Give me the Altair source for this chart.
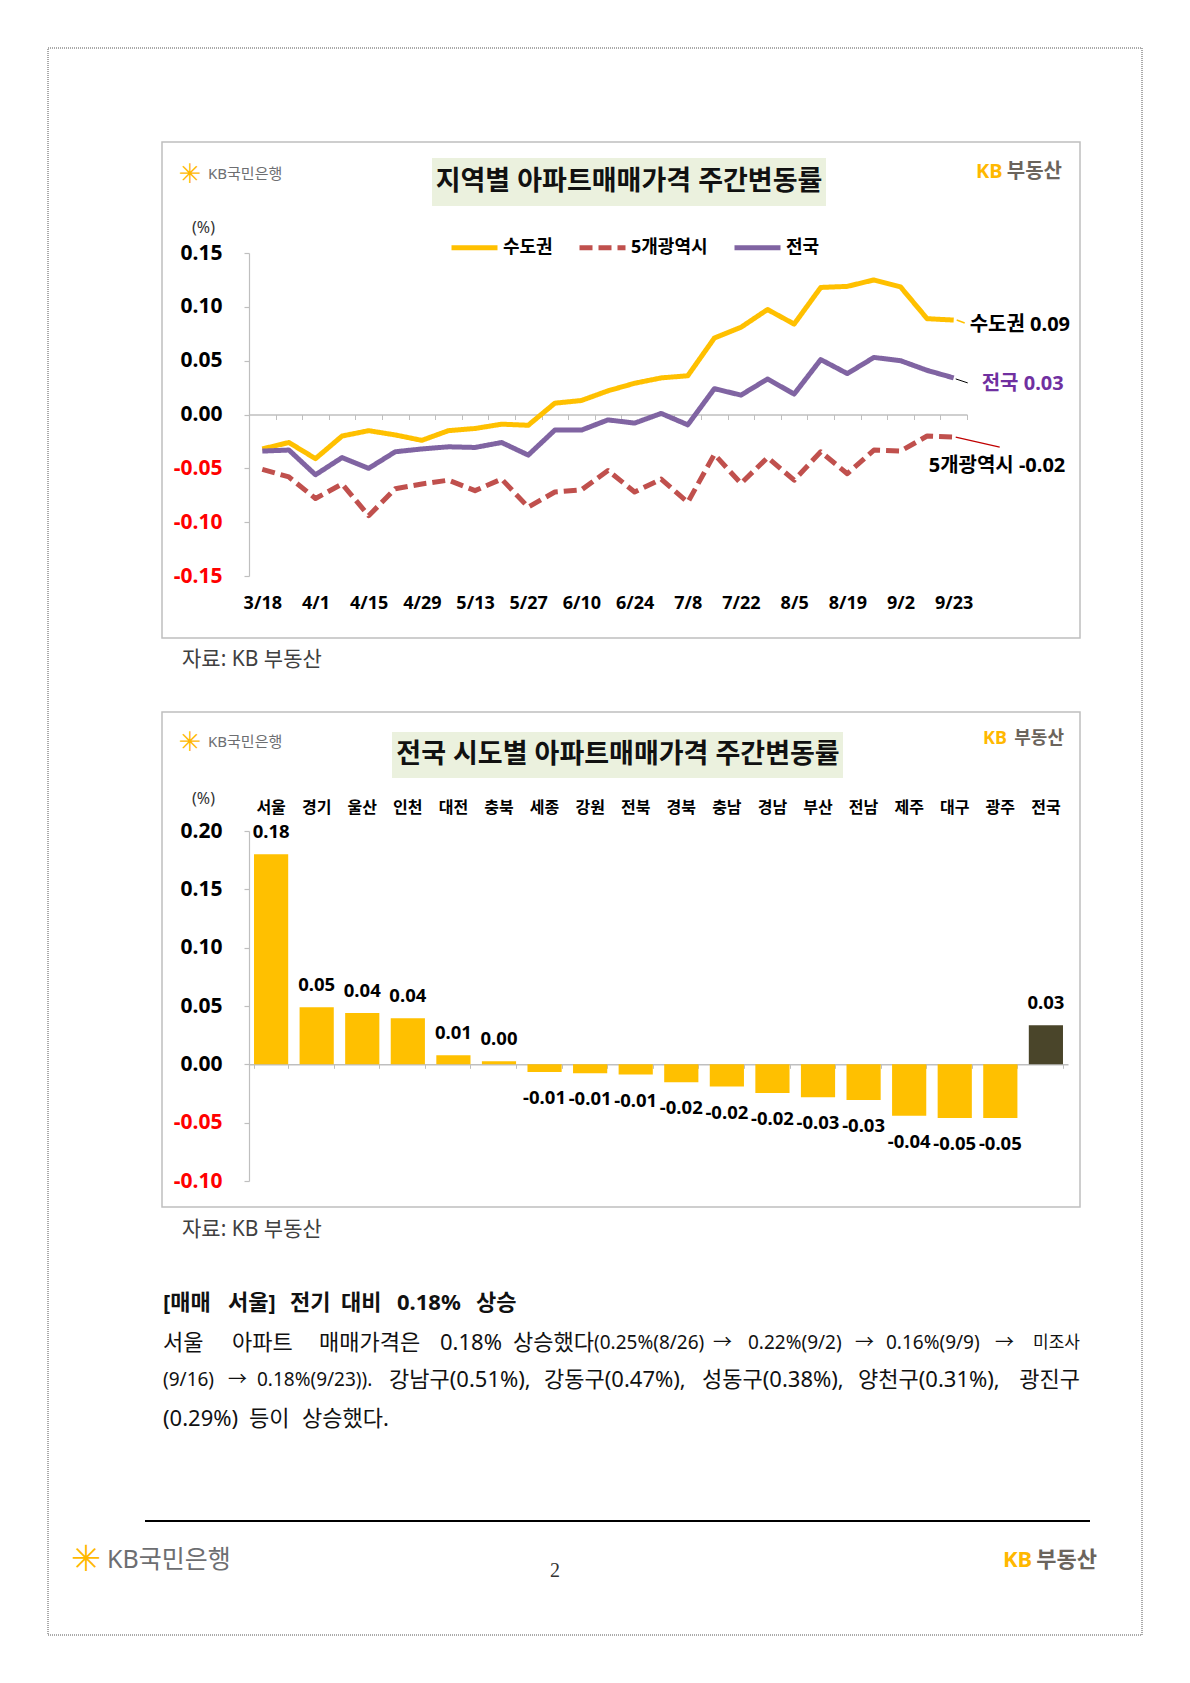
import altair as alt
import pandas as pd

# ---------------- data ----------------
dates = ["3/18", "3/25", "4/1", "4/8", "4/15", "4/22", "4/29", "5/6", "5/13", "5/20",
         "5/27", "6/3", "6/10", "6/17", "6/24", "7/1", "7/8", "7/15", "7/22", "7/29",
         "8/5", "8/12", "8/19", "8/26", "9/2", "9/9", "9/23"]
date_ticks = ["3/18", "4/1", "4/15", "4/29", "5/13", "5/27", "6/10", "6/24", "7/8",
              "7/22", "8/5", "8/19", "9/2", "9/23"]
series_names = ["수도권", "5개광역시", "전국"]
sudogwon = [-0.032, -0.026, -0.041, -0.020, -0.015, -0.019, -0.024, -0.015, -0.013, -0.009,
            -0.010, 0.0105, 0.013, 0.022, 0.029, 0.034, 0.036, 0.071, 0.081, 0.0975,
            0.084, 0.118, 0.119, 0.125, 0.1185, 0.089, 0.0877]
metro5 = [-0.051, -0.058, -0.078, -0.0645, -0.094, -0.069, -0.0645, -0.061, -0.0707, -0.060,
          -0.086, -0.072, -0.070, -0.052, -0.072, -0.060, -0.0815, -0.037, -0.064, -0.040,
          -0.061, -0.0346, -0.055, -0.033, -0.034, -0.020, -0.021]
national = [-0.034, -0.033, -0.056, -0.040, -0.050, -0.0346, -0.032, -0.030, -0.0306, -0.026,
            -0.0377, -0.0145, -0.0145, -0.005, -0.008, 0.001, -0.0096, 0.024, 0.018, 0.033,
            0.019, 0.051, 0.038, 0.053, 0.050, 0.041, 0.034]

regions = ["서울", "경기", "울산", "인천", "대전", "충북", "세종", "강원", "전북", "경북",
           "충남", "경남", "부산", "전남", "제주", "대구", "광주", "전국"]
region_values = [0.180, 0.049, 0.044, 0.0395, 0.0077, 0.0026, -0.0066, -0.0077, -0.0088, -0.0154,
                 -0.019, -0.0246, -0.0283, -0.0306, -0.044, -0.046, -0.046, 0.0334]

y1_ticks = [-0.15, -0.10, -0.05, 0.0, 0.05, 0.10, 0.15]
y2_ticks = [-0.10, -0.05, 0.0, 0.05, 0.10, 0.15, 0.20]

# ---------------- style ----------------
FONT = "Noto Sans, Noto Sans CJK KR"
GRID = "#BFBFBF"
YELLOW = "#FFC000"
RED = "#C0504D"
PURPLE = "#8064A2"
KBY = "#FFB800"
KBG = "#6B645C"
W1, H1 = 718, 323
W2, H2 = 819, 350
MINUS = "replace(format(datum.value, '.2f'), '\u2212', '-')"

line_df = pd.DataFrame({
    "date": dates * 3,
    "series": [series_names[0]] * len(dates) + [series_names[1]] * len(dates) + [series_names[2]] * len(dates),
    "value": sudogwon + metro5 + national,
})
bar_df = pd.DataFrame({"region": regions, "value": region_values})
ONE = pd.DataFrame({"k": [1]})


def value_axis(ticks, title_y):
    return alt.Axis(
        values=ticks, title="(%)", titleAngle=0, titleX=-46, titleY=title_y,
        titleAlign="center", titleBaseline="middle", titleFont=FONT, titleFontSize=16,
        titleFontWeight="normal", titleColor="#333333",
        labelExpr=MINUS,
        labelColor={"condition": {"test": "datum.value < 0", "value": "#FF0000"}, "value": "#000000"},
        labelFont=FONT, labelFontSize=21, labelFontWeight="bold", labelPadding=22,
        tickSize=5, tickColor=GRID, domainColor=GRID, domainWidth=1.2, tickWidth=1.2, grid=False)


def txt(text, x, y, size, color="#000000", weight="normal", align="left", font=FONT):
    return alt.Chart(ONE).mark_text(
        text=text, align=align, baseline="middle", font=font, fontSize=size,
        fontWeight=weight, color=color).encode(x=alt.value(x), y=alt.value(y))


def box(x1, y1, x2, y2, fill="transparent", stroke="transparent", sw=1, dash=None):
    kw = dict(fill=fill, stroke=stroke, strokeWidth=sw)
    if dash:
        kw["strokeDash"] = dash
    return alt.Chart(ONE).mark_rect(**kw).encode(
        x=alt.value(x1), x2=alt.value(x2), y=alt.value(y1), y2=alt.value(y2))


def hline(x1, x2, y, color, sw):
    return alt.Chart(ONE).mark_rule(color=color, strokeWidth=sw).encode(
        x=alt.value(x1), x2=alt.value(x2), y=alt.value(y), y2=alt.value(y))


# ---------------- panel 1: line chart ----------------
def sx_line():
    return alt.Scale(type="point", domain=dates, padding=0.5)


sy_line = alt.Scale(domain=[-0.15, 0.15], nice=False, zero=False)
legend = alt.Legend(orient="none", legendX=200, legendY=-31, direction="horizontal",
                    symbolType="stroke", symbolSize=2116, symbolStrokeWidth=5,
                    labelFont=FONT, labelFontSize=18, labelFontWeight="bold", labelColor="#000000",
                    labelOffset=3, columnPadding=16, padding=0, title=None)

lines = alt.Chart(line_df).mark_line(strokeWidth=5, strokeJoin="round", strokeCap="butt").encode(
    x=alt.X("date:N", scale=sx_line(),
            axis=alt.Axis(orient="bottom", values=date_ticks, domain=False, ticks=False, tickSize=0,
                          labelPadding=18, labelFont=FONT, labelFontSize=18, labelFontWeight="bold",
                          labelColor="#000000", labelAngle=0, labelOverlap=False, title=None, grid=False)),
    y=alt.Y("value:Q", scale=sy_line, axis=value_axis(y1_ticks, -26)),
    color=alt.Color("series:N", scale=alt.Scale(domain=series_names, range=[YELLOW, RED, PURPLE]),
                    legend=legend),
    strokeDash=alt.StrokeDash("series:N",
                              scale=alt.Scale(domain=series_names, range=[[1, 0], [13, 6], [1, 0]]),
                              legend=legend),
)


def last_point(series):
    return alt.Chart(line_df).transform_filter(
        (alt.datum.date == dates[-1]) & (alt.datum.series == series))


def end_label(series, dx, dy, color, sep=" "):
    return last_point(series).transform_calculate(
        lab="datum.series + '" + sep + "' + " + MINUS
    ).mark_text(align="left", baseline="middle", dx=dx, dy=dy, font=FONT, fontSize=20,
                fontWeight="bold", color=color).encode(
        x=alt.X("date:N", scale=sx_line(), axis=None),
        y=alt.Y("value:Q", scale=sy_line),
        text="lab:N")


def leader(series, color, sw, xo, yo, x2o, y2o):
    return last_point(series).mark_rule(color=color, strokeWidth=sw, xOffset=xo, yOffset=yo,
                                        x2Offset=x2o, y2Offset=y2o).encode(
        x=alt.X("date:N", scale=sx_line(), axis=None), x2=alt.X2("date:N"),
        y=alt.Y("value:Q", scale=sy_line), y2=alt.Y2("value:Q"))


zero_axis1 = alt.Chart(pd.DataFrame({"date": dates})).mark_point(opacity=0).encode(
    x=alt.X("date:N", scale=alt.Scale(type="band", domain=dates, paddingInner=0, paddingOuter=0),
            axis=alt.Axis(orient="bottom", offset=-H1 / 2, labels=False, tickBand="extent", tickSize=5,
                          tickColor=GRID, domainColor=GRID, domainWidth=1.5, title=None, grid=False)))

panel1 = alt.layer(
    box(-201, -205, 893, 1382, stroke="#555555", sw=1, dash=[1, 1]),
    box(-87, -111, 831, 385, stroke=GRID, sw=1.5),
    box(183, -95, 577, -47, fill="#EBF1DE"),
    txt("지역별 아파트매매가격 주간변동률", 380, -71, 27, "#111111", "bold", "center"),
    txt("\u2733", -59, -78, 27, KBY, "bold", "center", "DejaVu Sans"),
    txt("KB국민은행", -41, -79, 15, "#6D6E71"),
    txt("KB", 727, -81, 20, KBY, "bold"),
    txt("부동산", 813, -81, 20, KBG, "bold", "right"),
    txt("자료: KB 부동산", -67, 407, 21, "#404040"),
    zero_axis1,
    lines,
    leader("수도권", YELLOW, 1.5, 3, 0, 11, 3),
    leader("전국", "#000000", 1.0, 2, 1, 14, 5),
    leader("5개광역시", "#C00000", 1.2, 2, 0, 46, 10),
    end_label("수도권", 16, 5, "#000000"),
    end_label("전국", 28, 6, "#7030A0"),
    end_label("5개광역시", -25, 29, "#000000", "  "),
).resolve_scale(x="independent").resolve_axis(x="independent").properties(width=W1, height=H1)

# ---------------- panel 2: bar chart ----------------
sx_bar = alt.Scale(domain=regions, paddingInner=0.25, paddingOuter=0.11)
sy_bar = alt.Scale(domain=[-0.10, 0.20], nice=False, zero=False)

bars = alt.Chart(bar_df).mark_bar().encode(
    x=alt.X("region:N", scale=sx_bar,
            axis=alt.Axis(orient="bottom", offset=-H2 / 3, labels=False, tickBand="extent", tickSize=4,
                          tickColor=GRID, domainColor=GRID, domainWidth=1.5, title=None, grid=False)),
    y=alt.Y("value:Q", scale=sy_bar, axis=value_axis(y2_ticks, -33)),
    color=alt.when(alt.datum.region == "전국").then(alt.value("#4A452A")).otherwise(alt.value(YELLOW)),
)

top_names = alt.Chart(bar_df).mark_point(opacity=0).encode(
    x=alt.X("region:N", scale=sx_bar,
            axis=alt.Axis(orient="top", domain=False, ticks=False, tickSize=0, labelPadding=16,
                          labelFont=FONT, labelFontSize=16, labelFontWeight="bold", labelColor="#000000",
                          labelAngle=0, labelOverlap=False, title=None, grid=False)))


def bar_labels(test, dy):
    return alt.Chart(bar_df).transform_filter(test).transform_calculate(lab=MINUS).mark_text(
        align="center", baseline="middle", dy=dy, font=FONT, fontSize=18.5, fontWeight="bold",
        color="#000000").encode(
        x=alt.X("region:N", scale=sx_bar, axis=None),
        y=alt.Y("value:Q", scale=sy_bar),
        text="lab:N")


HD, L1, L2, L3 = 472, 512, 549, 588
BIG, SMALL = 22, 19
body = [
    # heading
    ("[매매", -86, HD, 22, "bold", "left"), ("서울]", -21, HD, 22, "bold", "left"),
    ("전기", 41, HD, 22, "bold", "left"), ("대비", 92, HD, 22, "bold", "left"),
    ("0.18%", 148, HD, 22, "bold", "left"), ("상승", 227, HD, 22, "bold", "left"),
    # line 1
    ("서울", -86, L1, BIG, "normal", "left"), ("아파트", -17, L1, BIG, "normal", "left"),
    ("매매가격은", 70, L1, BIG, "normal", "left"), ("0.18%", 191, L1, BIG, "normal", "left"),
    ("상승했다", 264, L1, BIG, "normal", "left"), ("(0.25%(8/26)", 345, L1, SMALL, "normal", "left"),
    ("\u2192", 464, L1, SMALL, "normal", "left"), ("0.22%(9/2)", 499, L1, SMALL, "normal", "left"),
    ("\u2192", 606, L1, SMALL, "normal", "left"), ("0.16%(9/9)", 637, L1, SMALL, "normal", "left"),
    ("\u2192", 746, L1, SMALL, "normal", "left"), ("미조사", 831, L1, 17, "normal", "right"),
    # line 2
    ("(9/16)", -86, L2, SMALL, "normal", "left"), ("\u2192", -21, L2, SMALL, "normal", "left"),
    ("0.18%(9/23)).", 8, L2, SMALL, "normal", "left"), ("강남구(0.51%),", 140, L2, BIG, "normal", "left"),
    ("강동구(0.47%),", 295, L2, BIG, "normal", "left"), ("성동구(0.38%),", 453, L2, BIG, "normal", "left"),
    ("양천구(0.31%),", 609, L2, BIG, "normal", "left"), ("광진구", 831, L2, BIG, "normal", "right"),
    # line 3
    ("(0.29%)", -86, L3, BIG, "normal", "left"), ("등이", 0, L3, BIG, "normal", "left"),
    ("상승했다.", 53, L3, BIG, "normal", "left"),
]
body_layers = [txt(t, x, y, s, "#111111", w, a) for (t, x, y, s, w, a) in body]

panel2 = alt.layer(
    box(-87, -119, 831, 376, stroke=GRID, sw=1.5),
    box(143, -99, 594, -53, fill="#EBF1DE"),
    txt("전국 시도별 아파트매매가격 주간변동률", 369, -76, 27, "#111111", "bold", "center"),
    txt("\u2733", -59, -88, 27, KBY, "bold", "center", "DejaVu Sans"),
    txt("KB국민은행", -41, -89, 15, "#6D6E71"),
    txt("KB", 734, -92, 18, KBY, "bold"),
    txt("부동산", 815, -92, 18, KBG, "bold", "right"),
    txt("자료: KB 부동산", -67, 399, 21, "#404040"),
    *body_layers,
    hline(-104, 841, 690, "#000000", 2),
    txt("\u2733", -163, 729, 36, KBY, "bold", "center", "DejaVu Sans"),
    txt("KB국민은행", -142, 729, 25, "#6D6E71"),
    txt("2", 306, 740, 20, "#333333", "normal", "center", "Liberation Serif"),
    txt("KB", 754, 729, 22, KBY, "bold"),
    txt("부동산", 848, 729, 22, KBG, "bold", "right"),
    bars,
    top_names,
    bar_labels("datum.value >= 0", -22),
    bar_labels("datum.value < 0", 26),
).resolve_axis(x="independent").properties(width=W2, height=H2)

chart = alt.vconcat(panel1, panel2, spacing=255, bounds="flush").properties(
    padding={"left": 39, "top": 39, "right": 5, "bottom": 5},
    background="white",
).configure_view(strokeWidth=0)

chart.save("out.html", embed_options={"renderer": "svg", "actions": False})
